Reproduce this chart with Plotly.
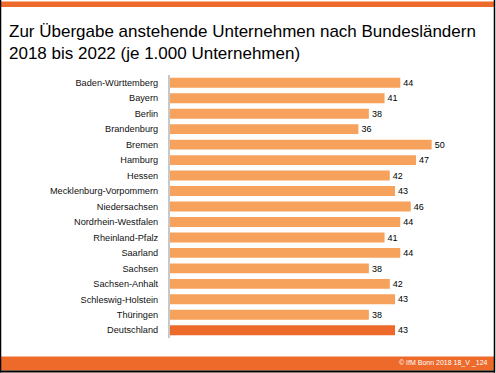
import plotly.graph_objects as go

states = ["Baden-Württemberg", "Bayern", "Berlin", "Brandenburg", "Bremen", "Hamburg",
          "Hessen", "Mecklenburg-Vorpommern", "Niedersachsen", "Nordrhein-Westfalen",
          "Rheinland-Pfalz", "Saarland", "Sachsen", "Sachsen-Anhalt", "Schleswig-Holstein",
          "Thüringen", "Deutschland"]
values = [44, 41, 38, 36, 50, 47, 42, 43, 46, 44, 41, 44, 38, 42, 43, 38, 43]
title_text = "Zur Übergabe anstehende Unternehmen nach Bundesländern<br>2018 bis 2022 (je 1.000 Unternehmen)"
footer_text = "© IfM Bonn 2018 18_V _124"

W, H = 496, 373
L, R, T, B = 170, 12, 75, 35
PW, PH = W - L - R, H - T - B

def px(x):
    return (x - L) / PW

def py(y):
    return (H - B - y) / PH

light = "#F6A25C"
dark = "#EE6A2A"
colors = [dark if s == "Deutschland" else light for s in states]

fig = go.Figure(go.Bar(
    x=values, y=states, orientation="h",
    marker=dict(color=colors, line=dict(width=0)),
    text=[str(v) for v in values], textposition="outside",
    textfont=dict(size=10, color="#000000", family="Liberation Sans, Arial"),
    cliponaxis=False, width=0.64,
))

fig.update_layout(
    width=W, height=H,
    margin=dict(l=L, r=R, t=T, b=B),
    paper_bgcolor="white", plot_bgcolor="white",
    showlegend=False,
    font=dict(family="Liberation Sans, Arial", color="#000000"),
    xaxis=dict(range=[0, 60], visible=False, fixedrange=True),
    yaxis=dict(autorange=False, range=[16.5, -0.5], showline=True, linecolor="#C8C8C8",
               linewidth=2, showgrid=False, ticks="", ticklabelstandoff=8,
               tickfont=dict(size=9.2, color="#111111")),
    shapes=[
        dict(type="rect", xref="paper", yref="paper", x0=px(1), x1=px(494), y0=py(7), y1=py(1.5),
             fillcolor=dark, line=dict(width=0), layer="below"),
        dict(type="rect", xref="paper", yref="paper", x0=px(1), x1=px(494), y0=py(370.5), y1=py(356.5),
             fillcolor=dark, line=dict(width=0), layer="below"),
        dict(type="line", xref="paper", yref="paper", x0=px(0.5), x1=px(0.5), y0=py(0), y1=py(372.5),
             line=dict(color="#000000", width=1.5)),
        dict(type="line", xref="paper", yref="paper", x0=px(494.5), x1=px(494.5), y0=py(0), y1=py(372.5),
             line=dict(color="#000000", width=1.5)),
        dict(type="line", xref="paper", yref="paper", x0=px(0), x1=px(495), y0=py(371.5), y1=py(371.5),
             line=dict(color="#000000", width=2)),
    ],
    annotations=[
        dict(text=title_text, xref="paper", yref="paper", x=px(7), y=py(20), xanchor="left",
             yanchor="top", align="left", showarrow=False,
             font=dict(size=17, color="#000000", family="Liberation Sans, Arial")),
        dict(text=footer_text, xref="paper", yref="paper", x=px(490), y=py(363.5), xanchor="right",
             yanchor="middle", showarrow=False,
             font=dict(size=7, color="#FFFFFF", family="Liberation Sans, Arial")),
    ],
)

fig.write_html("out.html", config={"displayModeBar": False},
               post_script="document.body.style.margin='0';document.body.style.overflow='hidden';")
